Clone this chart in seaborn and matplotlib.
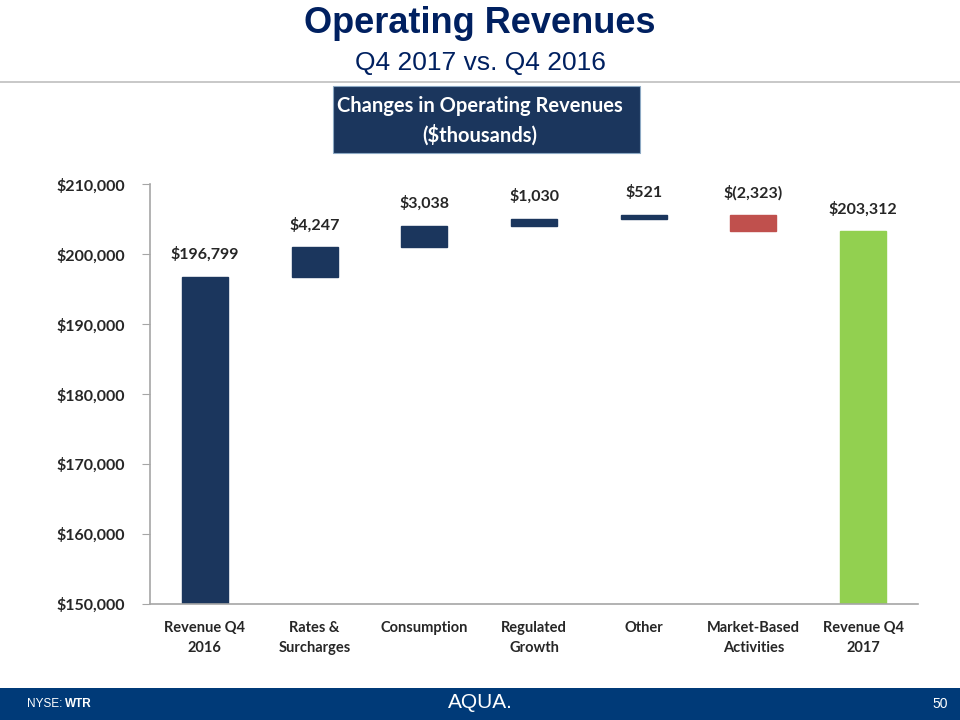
import matplotlib
matplotlib.use("Agg")
import matplotlib.pyplot as plt
import seaborn as sns
import numpy as np

categorias = ["Revenue Q4\n2016", "Rates &\nSurcharges", "Consumption", "Regulated\nGrowth",
              "Other", "Market-Based\nActivities", "Revenue Q4\n2017"]
cambios = [196799, 4247, 3038, 1030, 521, -2323, 203312]
etiquetas = ["$196,799", "$4,247", "$3,038", "$1,030", "$521", "$(2,323)", "$203,312"]
colores = ["#1B365D", "#1B365D", "#1B365D", "#1B365D", "#1B365D", "#C0504D", "#92D050"]
yticks = [150000, 160000, 170000, 180000, 190000, 200000, 210000]

# bases y alturas de la cascada
bases, alturas = [], []
acum = 0
for i, v in enumerate(cambios):
    if i == 0 or i == len(cambios) - 1:
        bases.append(0)
        alturas.append(v)
        acum = v
    else:
        bases.append(acum if v >= 0 else acum + v)
        alturas.append(abs(v))
        acum += v
tops = [b + h for b, h in zip(bases, alturas)]

sns.set_style("white")
plt.rcParams["font.family"] = ["Lato", "DejaVu Sans"]

fig = plt.figure(figsize=(9.6, 7.2), dpi=100)
ax = fig.add_axes([0.15625, 0.161, 0.8, 0.583])

sns.barplot(x=categorias, y=alturas, bottom=bases, color="#1B365D", width=0.42,
            errorbar=None, saturation=1, ax=ax)
for p, c in zip(ax.patches, colores):
    p.set_facecolor(c)
    p.set_edgecolor(c)

for i, (t, txt) in enumerate(zip(tops, etiquetas)):
    ax.annotate(txt, (i, t), xytext=(0, 16), textcoords="offset points",
                ha="center", va="center", fontsize=11.5, fontweight="bold", color="#262626")

ax.set_ylim(150000, 210000)
ax.set_xlim(-0.5, 6.5)
ax.set_yticks(yticks)
ax.set_yticklabels([f"${v:,}" for v in yticks], fontsize=11.5, fontweight="bold", color="#262626")
ax.set_xticks(range(len(categorias)))
ax.set_xticklabels(categorias, fontsize=10.5, fontweight="bold", color="#262626",
                   linespacing=1.55)
ax.set_xticks(np.arange(-0.5, 7, 1), minor=True)
ax.tick_params(axis="x", which="major", length=0, pad=12)
ax.tick_params(axis="x", which="minor", length=5, color="#A6A6A6", direction="out")
ax.tick_params(axis="y", length=6, color="#A6A6A6", direction="out", pad=12, left=True)
ax.set_xlabel("")
ax.set_ylabel("")
for s in ["top", "right"]:
    ax.spines[s].set_visible(False)
for s in ["left", "bottom"]:
    ax.spines[s].set_color("#A6A6A6")
    ax.spines[s].set_linewidth(1.2)

# encabezado
fig.text(0.5, 0.968, "Operating Revenues", ha="center", va="center", fontsize=26,
         fontweight="bold", color="#002060", family=["Liberation Sans", "DejaVu Sans"])
fig.text(0.5, 0.912, "Q4 2017 vs. Q4 2016", ha="center", va="center", fontsize=19,
         color="#002060", family=["Liberation Sans", "DejaVu Sans"])
fig.add_artist(plt.Line2D([0, 1], [1 - 82 / 720, 1 - 82 / 720], color="#BFBFBF", lw=1.2))

# cuadro de titulo
fig.patches.append(plt.Rectangle((333 / 960, 1 - 153 / 720), 307 / 960, 67 / 720,
                                 transform=fig.transFigure, facecolor="#1B365D",
                                 edgecolor="#8DA9C4", lw=0.8))
fig.text(0.5, 1 - 121 / 720, "Changes in Operating Revenues\n($thousands)", ha="center",
         va="center", fontsize=14.5, fontweight="bold", color="white", linespacing=1.5)

# pie de pagina
fig.patches.append(plt.Rectangle((0, 0), 1, 32 / 720, transform=fig.transFigure,
                                 facecolor="#003A78", edgecolor="none"))
fig.text(27 / 960, 16 / 720, "NYSE:", ha="left", va="center", fontsize=8.5, color="white",
         family=["Liberation Sans", "DejaVu Sans"])
fig.text(65 / 960, 16 / 720, "WTR", ha="left", va="center", fontsize=8.5, color="white",
         fontweight="bold", family=["Liberation Sans", "DejaVu Sans"])
fig.text(0.5, 18 / 720, "AQUA.", ha="center", va="center", fontsize=15, color="white",
         family=["Liberation Sans", "DejaVu Sans"])
fig.text(948 / 960, 16 / 720, "50", ha="right", va="center", fontsize=10, color="white",
         family=["Liberation Sans", "DejaVu Sans"])

fig.savefig("out.png", dpi=100)
